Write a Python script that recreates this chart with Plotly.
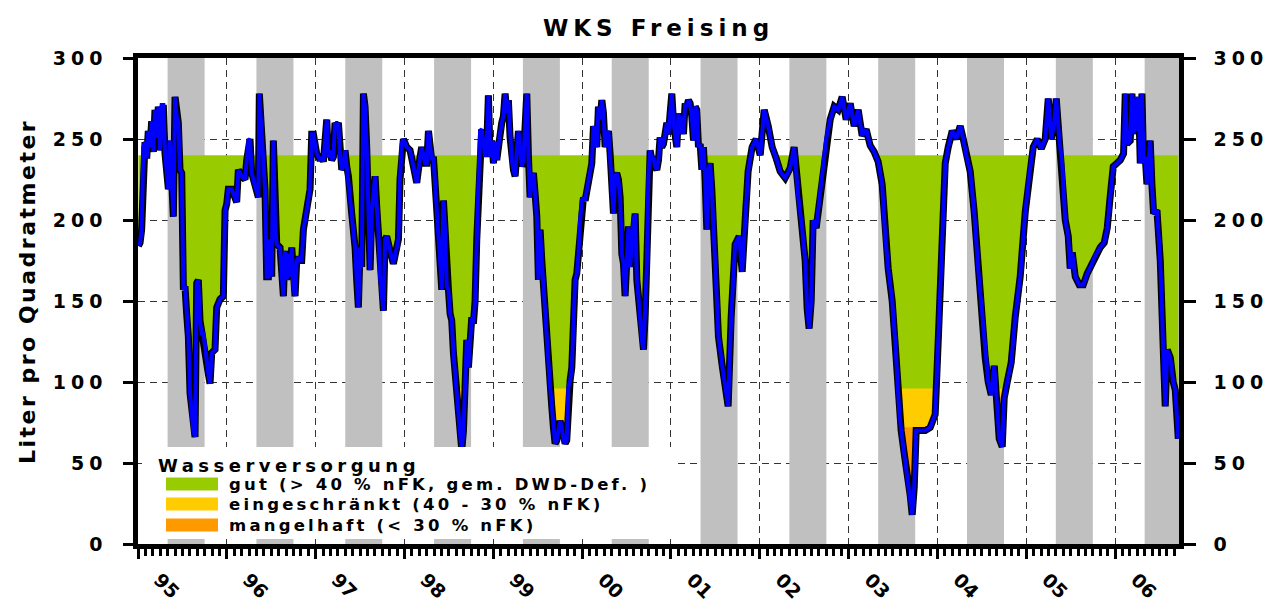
import plotly.graph_objects as go
import numpy as np

# ---------------- data ----------------
t_year = [
 1995.005,1995.023,1995.041,1995.060,1995.079,1995.098,1995.116,1995.135,1995.154,1995.173,
 1995.191,1995.210,1995.229,1995.248,1995.267,1995.285,1995.304,1995.323,1995.342,1995.360,
 1995.379,1995.398,1995.417,1995.435,1995.454,1995.473,1995.492,1995.511,1995.529,1995.548,
 1995.567,1995.586,1995.604,1995.623,1995.642,1995.661,1995.679,1995.698,1995.717,1995.736,
 1995.755,1995.773,1995.792,1995.811,1995.830,1995.867,1995.886,1995.923,1995.961,1995.980,
 1995.999,1996.017,1996.055,1996.111,1996.130,1996.167,1996.205,1996.224,1996.243,1996.261,
 1996.280,1996.318,1996.355,1996.366,1996.393,1996.411,1996.430,1996.449,1996.468,1996.487,
 1996.505,1996.524,1996.543,1996.562,1996.599,1996.618,1996.637,1996.655,1996.674,1996.693,
 1996.712,1996.731,1996.749,1996.768,1996.787,1996.806,1996.824,1996.843,1996.862,1996.881,
 1996.899,1996.918,1996.937,1996.956,1996.975,1996.993,1997.012,1997.050,1997.068,1997.087,
 1997.106,1997.125,1997.143,1997.162,1997.181,1997.200,1997.218,1997.237,1997.256,1997.275,
 1997.294,1997.312,1997.331,1997.350,1997.369,1997.406,1997.425,1997.444,1997.462,1997.481,
 1997.500,1997.519,1997.538,1997.556,1997.575,1997.594,1997.613,1997.631,1997.669,1997.688,
 1997.706,1997.725,1997.744,1997.763,1997.782,1997.800,1997.838,1997.875,1997.913,1997.932,
 1997.950,1997.969,1997.988,1998.025,1998.063,1998.101,1998.138,1998.176,1998.194,1998.232,
 1998.251,1998.270,1998.307,1998.326,1998.345,1998.363,1998.382,1998.401,1998.420,1998.439,
 1998.457,1998.476,1998.495,1998.514,1998.532,1998.551,1998.570,1998.589,1998.607,1998.626,
 1998.645,1998.664,1998.683,1998.701,1998.720,1998.739,1998.758,1998.776,1998.795,1998.814,
 1998.833,1998.851,1998.870,1998.889,1998.908,1998.927,1998.945,1998.964,1998.983,1999.002,
 1999.020,1999.039,1999.058,1999.077,1999.095,1999.114,1999.133,1999.152,1999.170,1999.189,
 1999.208,1999.227,1999.246,1999.264,1999.283,1999.302,1999.321,1999.339,1999.358,1999.377,
 1999.396,1999.414,1999.433,1999.452,1999.471,1999.490,1999.508,1999.527,1999.546,1999.565,
 1999.583,1999.602,1999.621,1999.640,1999.658,1999.677,1999.696,1999.715,1999.734,1999.752,
 1999.771,1999.790,1999.809,1999.827,1999.846,1999.865,1999.884,1999.902,1999.921,1999.940,
 1999.959,1999.978,1999.996,2000.015,2000.034,2000.053,2000.071,2000.090,2000.109,2000.128,
 2000.146,2000.165,2000.184,2000.203,2000.222,2000.240,2000.259,2000.278,2000.297,2000.315,
 2000.334,2000.353,2000.372,2000.390,2000.409,2000.428,2000.447,2000.466,2000.484,2000.503,
 2000.522,2000.541,2000.559,2000.578,2000.597,2000.616,2000.634,2000.653,2000.672,2000.691,
 2000.710,2000.728,2000.747,2000.766,2000.785,2000.803,2000.822,2000.841,2000.860,2000.878,
 2000.897,2000.916,2000.954,2000.972,2000.991,2001.010,2001.029,2001.047,2001.066,2001.085,
 2001.104,2001.122,2001.141,2001.160,2001.179,2001.197,2001.216,2001.235,2001.254,2001.273,
 2001.291,2001.310,2001.329,2001.348,2001.366,2001.385,2001.404,2001.423,2001.441,2001.460,
 2001.479,2001.498,2001.517,2001.535,
 2001.577,2001.622,2001.644,2001.678,2001.723,2001.768,2001.802,2001.836,2001.869,2001.914,
 2001.959,2002.005,2002.050,2002.095,2002.140,2002.185,2002.230,2002.286,2002.342,2002.387,
 2002.432,2002.477,2002.511,2002.534,2002.556,2002.579,2002.601,2002.635,2002.669,2002.703,
 2002.748,2002.793,2002.838,2002.883,2002.928,2002.973,2003.018,2003.063,2003.108,2003.153,
 2003.198,2003.243,2003.288,2003.333,2003.378,2003.412,2003.446,2003.491,2003.525,2003.547,
 2003.570,2003.592,2003.626,2003.660,2003.694,2003.716,2003.739,2003.761,2003.806,2003.863,
 2003.919,2003.975,
 2004.009,2004.054,2004.088,2004.122,2004.167,2004.212,2004.257,2004.291,2004.324,2004.369,
 2004.414,2004.459,2004.505,2004.538,2004.572,2004.606,2004.640,2004.673,2004.696,2004.730,
 2004.752,2004.786,2004.831,2004.876,2004.932,2004.989,2005.034,2005.079,2005.124,2005.169,
 2005.214,2005.248,2005.282,2005.315,2005.338,2005.372,2005.405,2005.439,2005.473,2005.495,
 2005.518,2005.552,2005.597,2005.642,2005.687,2005.732,2005.777,2005.833,2005.878,2005.912,
 2005.946,2005.980,2006.021,2006.059,2006.096,2006.115,2006.134,2006.171,2006.190,2006.209,
 2006.227,2006.246,2006.265,2006.284,2006.303,2006.321,2006.340,2006.359,2006.378,2006.396,
 2006.415,2006.434,2006.472,2006.509,2006.543,2006.565,2006.588,2006.622,2006.655,2006.678,
 2006.712,
]

water = [
 184,186,194,245,248,238,255,245,261,242,
 268,251,270,243,271,271,241,231,219,249,
 219,202,276,264,260,231,229,157,159,142,
 128,93,81,70,66,161,163,138,130,130,
 122,111,105,99,118,120,146,151,153,206,
 210,219,219,211,231,227,225,237,249,250,
 229,221,214,278,255,233,219,165,165,188,
 165,249,196,185,183,167,153,181,163,179,
 165,183,159,153,175,177,175,175,194,200,
 206,214,219,253,253,247,241,237,239,236,
 249,262,239,243,237,239,260,258,260,239,
 231,233,243,233,227,204,194,183,163,146,
 183,171,278,270,245,204,169,204,227,208,
 194,165,151,144,188,190,181,173,183,188,
 225,247,250,245,243,233,223,239,245,235,
 235,255,237,239,225,204,190,175,157,212,
 194,159,157,142,138,118,107,95,81,68,
 58,70,101,126,109,128,140,136,150,188,
 222,255,256,247,239,247,277,239,249,235,
 248,237,249,254,260,264,278,266,274,251,
 237,231,227,242,255,245,233,237,260,278,
 239,214,225,229,216,202,163,194,175,157,
 142,126,112,97,85,72,62,64,70,76,
 72,64,62,64,97,101,109,142,163,167,
 179,200,212,214,212,219,225,229,235,258,
 253,245,270,262,274,266,245,253,255,241,
 225,204,227,229,225,214,179,173,153,177,
 196,171,183,200,204,163,153,138,126,120,
 142,171,229,243,237,239,233,231,237,251,
 245,247,260,253,266,278,260,251,245,266,
 253,264,253,272,270,274,272,264,249,270,
 268,245,247,231,245,225,194,231,235,219,
 192,167,142,128,
 110,90,85,140,185,190,168,200,230,245,
 250,240,268,258,245,238,230,226,232,245,
 215,195,175,145,133,150,200,195,210,228,
 250,262,270,268,276,262,272,258,268,252,
 256,246,242,236,222,190,170,150,125,100,
 82,70,56,45,30,18,35,70,70,70,
 72,80,
 125,180,235,245,255,250,258,250,240,230,
 205,170,140,115,100,92,110,85,65,60,
 90,100,112,140,165,205,228,245,250,244,
 250,275,250,260,275,250,235,200,190,170,
 180,165,160,160,167,172,178,183,186,195,
 215,233,235,237,241,278,247,249,278,253,
 276,255,276,235,278,235,239,222,237,249,
 222,204,206,175,120,85,120,115,100,95,
 65,
]

year_ticks = list(range(1995, 2007))
year_labels = ["95", "96", "97", "98", "99", "00", "01", "02", "03", "04", "05", "06"]
veg_start_month = 4   # 1 May (months after 1 Jan)
veg_end_month = 9     # 1 Oct

NFK_FULL = 240        # 100 % nFK, l/m2
LIMIT_GOOD = 96       # 40 % nFK
LIMIT_POOR = 72       # 30 % nFK

y_ticks = [0, 50, 100, 150, 200, 250, 300]

legend_title = "Wasserversorgung"
legend_items = [
    ("gut (&gt; 40 % nFK, gem. DWD-Def. )", "#99CC00"),
    ("eingeschränkt (40 - 30 % nFK)", "#FFCC00"),
    ("mangelhaft (&lt; 30 % nFK)", "#FF9900"),
]

# ---------------- figure ----------------
FONT = "DejaVu Sans"
x = np.array(t_year)
v = np.array(water, dtype=float)
n = len(v)
assert len(x) == n

def spaced(s, px):
    return '<span style="letter-spacing:%spx">%s</span>' % (px, s)

fig = go.Figure()

levels = [(NFK_FULL, np.minimum(v, NFK_FULL), legend_items[0][1]),
          (LIMIT_GOOD, np.minimum(v, LIMIT_GOOD), legend_items[1][1]),
          (LIMIT_POOR, np.minimum(v, LIMIT_POOR), legend_items[2][1])]
for base, low, col in levels:
    fig.add_trace(go.Scatter(x=x, y=np.full(n, base), mode="lines",
                             line=dict(width=0), hoverinfo="skip", showlegend=False))
    fig.add_trace(go.Scatter(x=x, y=low, mode="lines", line=dict(width=0),
                             fill="tonexty", fillcolor=col, hoverinfo="skip", showlegend=False))

fig.add_trace(go.Scatter(x=x, y=v, mode="lines", line=dict(color="black", width=7),
                         xaxis="x2", yaxis="y2", hoverinfo="skip", showlegend=False))
fig.add_trace(go.Scatter(x=x, y=v, mode="lines", line=dict(color="#0000FF", width=4),
                         xaxis="x2", yaxis="y2", showlegend=False))

x_range = [1995.0, 2006.72]
shapes = []
for yr in year_ticks:
    shapes.append(dict(type="rect", xref="x", yref="y",
                       x0=yr + veg_start_month / 12, x1=min(yr + veg_end_month / 12, x_range[1]),
                       y0=0, y1=300, fillcolor="#C0C0C0", line=dict(width=0), layer="between"))

# legend box (drawn above data)
W, H, L, T = 1041.0, 486.0, 138.0, 58.0
def px(xp): return (xp - L) / W
def py(yp): return (T + H - yp) / H
shapes.append(dict(type="rect", xref="paper", yref="paper", x0=px(142), x1=px(676),
                   y0=py(539), y1=py(447), fillcolor="white", line=dict(width=0), layer="above"))
annotations = [dict(xref="paper", yref="paper", x=px(156), y=py(465), xanchor="left", yanchor="middle",
                    text=spaced(legend_title, 4.5), showarrow=False,
                    font=dict(family=FONT, size=18, color="black", weight="bold"))]
row_y = [484, 504, 525]
for (label, col), ry in zip(legend_items, row_y):
    shapes.append(dict(type="rect", xref="paper", yref="paper", x0=px(166), x1=px(218),
                       y0=py(ry + 6.5), y1=py(ry - 6.5), fillcolor=col, line=dict(width=0), layer="above"))
    annotations.append(dict(xref="paper", yref="paper", x=px(227), y=py(ry), xanchor="left",
                            yanchor="middle", text=spaced(label, 3.2), showarrow=False,
                            font=dict(family=FONT, size=16.5, color="black", weight="bold")))

annotations.append(dict(xref="paper", yref="paper", x=px(27), y=py(292), xanchor="center",
                        yanchor="middle", textangle=-90, showarrow=False,
                        text=spaced("Liter pro Quadratmeter", 2.5),
                        font=dict(family=FONT, size=22, color="black", weight="bold")))

tickfont = dict(family=FONT, size=19, color="black", weight="bold")
y_text = [spaced(str(t), 5) for t in y_ticks]

fig.update_layout(
    template="none",
    width=1273, height=607,
    margin=dict(l=138, r=94, t=58, b=63, autoexpand=False),
    paper_bgcolor="white", plot_bgcolor="white",
    showlegend=False,
    title=dict(text=spaced("WKS Freising", 5), x=0.5, xref="paper", xanchor="center",
               y=1 - 28 / 607, yref="container", yanchor="middle", automargin=False,
               font=dict(family=FONT, size=23, color="black", weight="bold")),
    shapes=shapes,
    annotations=annotations,
    xaxis=dict(range=x_range, tickmode="array", tickvals=year_ticks, showticklabels=False,
               ticks="outside", ticklen=10, tickwidth=2.5, tickcolor="black",
               showline=True, linewidth=4.5, linecolor="black", mirror=True,
               showgrid=True, gridcolor="#333333", gridwidth=1, griddash="7px,5px",
               zeroline=False, automargin=False,
               minor=dict(tickmode="linear", tick0=1995, dtick=1 / 12, ticks="outside",
                          ticklen=7, tickwidth=2.5, tickcolor="black", showgrid=False)),
    xaxis2=dict(range=x_range, overlaying="x", anchor="y2", side="bottom",
                tickmode="array", tickvals=[yr + 0.24 for yr in year_ticks], ticktext=year_labels,
                tickangle=45, ticks="", showline=False, showgrid=False, zeroline=False,
                tickfont=tickfont, ticklabelstandoff=20, automargin=False),
    yaxis=dict(range=[0, 300], tickmode="array", tickvals=y_ticks, ticktext=y_text,
               ticks="outside", ticklen=10, tickwidth=3, tickcolor="black",
               showline=True, linewidth=4.5, linecolor="black",
               showgrid=True, gridcolor="#333333", gridwidth=1, griddash="7px,5px",
               zeroline=False, tickfont=tickfont, ticklabelstandoff=12, automargin=False),
    yaxis2=dict(range=[0, 300], overlaying="y", anchor="x2", side="right",
                tickmode="array", tickvals=y_ticks, ticktext=y_text,
                ticks="outside", ticklen=12, tickwidth=3, tickcolor="black",
                showline=True, linewidth=4.5, linecolor="black",
                showgrid=False, zeroline=False, tickfont=tickfont, ticklabelstandoff=14,
                automargin=False),
)

fig.write_html("out.html", config={"displayModeBar": False},
               post_script="document.body.style.margin='0px';")
